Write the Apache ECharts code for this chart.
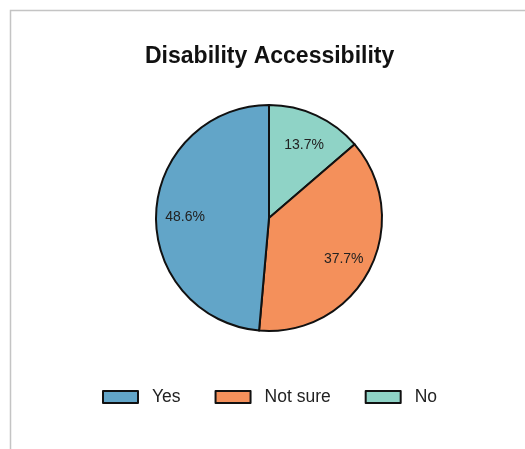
<!DOCTYPE html>
<html><head><meta charset="utf-8">
<script src="https://cdn.jsdelivr.net/npm/echarts@6/dist/echarts.min.js"></script>
<style>html,body{margin:0;padding:0;background:#fff;}#c{width:525px;height:449px;}</style>
</head><body><div id="c"></div>
<script>
const titleText = 'Disability Accessibility';
const categories = ['No', 'Not sure', 'Yes'];
const values = [13.7, 37.7, 48.6];
const colors = ['#8fd3c6', '#f4905b', '#62a5c8'];
const legendOrder = ['Yes', 'Not sure', 'No'];

const font = 'Arial, "Liberation Sans", sans-serif';
const data = categories.map((c, i) => ({ name: c, value: values[i], itemStyle: { color: colors[i] } }));
const labelData = categories.map((c, i) => ({ name: c, value: values[i] }));

const chart = echarts.init(document.getElementById('c'), null, { renderer: 'canvas' });
chart.setOption({
  animation: false,
  backgroundColor: '#fff',
  graphic: [{ type: 'rect', shape: { x: 10.5, y: 10.5, width: 700, height: 700 }, style: { fill: 'none', stroke: '#c4c4c4', lineWidth: 1.5 }, silent: true }],
  title: { text: titleText, left: 145, top: 45, padding: 0, textStyle: { fontFamily: font, fontSize: 23, fontWeight: 'bold', color: '#111' } },
  legend: {
    data: legendOrder, top: 388, left: 102, padding: 0, itemWidth: 35, itemHeight: 12, itemGap: 34,
    icon: 'rect',
    itemStyle: { borderColor: '#111', borderWidth: 2 },
    textStyle: { fontFamily: font, fontSize: 17.5, color: '#222', padding: [0, 0, 0, 9] }
  },
  series: [{
    type: 'pie', center: [269, 218], radius: [0, 113], startAngle: 90, clockwise: true,
    data: data, label: { show: false }, labelLine: { show: false },
    itemStyle: { borderColor: '#111', borderWidth: 2 }, emphasis: { disabled: true }
  }, {
    type: 'pie', center: [269, 218], radius: [49, 113], startAngle: 90, clockwise: true, silent: true,
    data: labelData,
    itemStyle: { color: 'rgba(0,0,0,0)', borderWidth: 0 },
    label: { show: true, position: 'inside', offset: [0, 3], formatter: p => p.value.toFixed(1) + '%', fontFamily: font, fontSize: 14, color: '#222' },
    labelLine: { show: false }, emphasis: { disabled: true }
  }]
});
</script></body></html>
